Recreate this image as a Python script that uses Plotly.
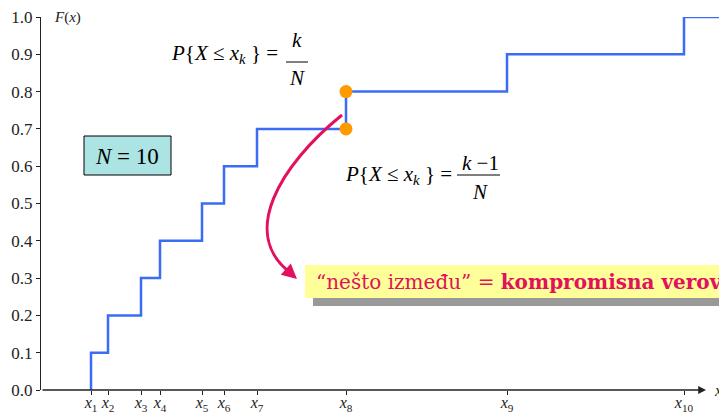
import plotly.graph_objects as go

# ---- data ----
sample_pos = [50, 67, 100, 119, 161, 183, 216, 305, 466, 643]   # x1..x10 (axis units)
F_values = [0.1, 0.2, 0.3, 0.4, 0.5, 0.6, 0.7, 0.8, 0.9, 1.0]
x_tick_labels = ["<i>x</i><sub>%d</sub>" % i for i in range(1, 11)]
y_ticks = [round(0.1 * i, 1) for i in range(11)]
highlight_F = [0.7, 0.8]          # values at x8 (k-1)/N and k/N
highlight_idx = 7                 # x8

X_MAX = 678
W, H = 719, 414
L, T, B = 41, 17, 24

def X(px):
    return px - L

def Y(py):
    return (H - B - py) / (H - B - T)

serif = "Liberation Serif"
wide_serif = "DejaVu Serif"
blue = "#3B6CF6"
pink = "#E2105E"

# step function
sx = [sample_pos[0]] + sample_pos + [X_MAX]
sy = [0.0] + F_values + [F_values[-1]]

fig = go.Figure()
fig.add_trace(go.Scatter(x=sx, y=sy, mode="lines", line=dict(color=blue, width=2.5, shape="hv"),
                         hoverinfo="skip", showlegend=False, cliponaxis=False))
fig.add_trace(go.Scatter(x=[sample_pos[highlight_idx]] * 2, y=highlight_F, mode="markers",
                         marker=dict(color="#FF9A00", size=13), showlegend=False, cliponaxis=False))

shapes = [
    # N=10 box
    dict(type="rect", xref="x", yref="y", x0=X(84), x1=X(171), y0=Y(175), y1=Y(136),
         fillcolor="#ACE3E3", line=dict(color="black", width=1), layer="above"),
    # shadow + yellow box
    dict(type="rect", xref="x", yref="y", x0=X(313), x1=X(740), y0=Y(306), y1=Y(297),
         fillcolor="#999999", line=dict(width=0), layer="above"),
    dict(type="rect", xref="x", yref="y", x0=X(305), x1=X(740), y0=Y(298), y1=Y(265),
         fillcolor="#FFFF99", line=dict(width=0), layer="above"),
    # fraction lines
    dict(type="line", xref="x", yref="y", x0=X(286), x1=X(308), y0=Y(62), y1=Y(62),
         line=dict(color="black", width=1)),
    dict(type="line", xref="x", yref="y", x0=X(457), x1=X(500), y0=Y(175), y1=Y(175),
         line=dict(color="black", width=1)),
    # curved pink arrow
    dict(type="path", xref="x", yref="y",
         path="M %f,%f C %f,%f %f,%f %f,%f" % (X(342), Y(115), X(280), Y(165), X(238), Y(235), X(292), Y(274)),
         line=dict(color=pink, width=3)),
]

ann = [
    dict(x=X(52), y=Y(17), xref="x", yref="y", text="<i>F</i>(<i>x</i>)", showarrow=False,
         xanchor="left", yanchor="middle", font=dict(family=serif, size=15, color="#222")),
    dict(x=X(127), y=Y(156), xref="x", yref="y", text="<i>N</i> = 10", showarrow=False,
         font=dict(family=serif, size=23, color="black")),
    dict(x=X(280), y=Y(54), xref="x", yref="y", text="<i>P</i>{<i>X</i> ≤ <i>x</i><sub><i>k</i></sub> } =",
         showarrow=False, xanchor="right", yanchor="middle", font=dict(family=serif, size=21, color="black")),
    dict(x=X(297), y=Y(40), xref="x", yref="y", text="<i>k</i>", showarrow=False,
         font=dict(family=serif, size=21, color="black")),
    dict(x=X(297), y=Y(78), xref="x", yref="y", text="<i>N</i>", showarrow=False,
         font=dict(family=serif, size=21, color="black")),
    dict(x=X(454), y=Y(175), xref="x", yref="y", text="<i>P</i>{<i>X</i> ≤ <i>x</i><sub><i>k</i></sub> } =",
         showarrow=False, xanchor="right", yanchor="middle", font=dict(family=serif, size=21, color="black")),
    dict(x=X(480), y=Y(163), xref="x", yref="y", text="<i>k</i> −1", showarrow=False,
         font=dict(family=serif, size=21, color="black")),
    dict(x=X(480), y=Y(192), xref="x", yref="y", text="<i>N</i>", showarrow=False,
         font=dict(family=serif, size=21, color="black")),
    dict(x=X(314), y=Y(282), xref="x", yref="y",
         text="“nešto između” = <b>kompromisna verovatnoća</b>", showarrow=False,
         xanchor="left", yanchor="middle", font=dict(family=wide_serif, size=20, color=pink)),
    # arrowhead for pink arrow
    dict(x=X(297), y=Y(279), xref="x", yref="y", ax=-9, ay=-8, text="", showarrow=True,
         arrowhead=2, arrowsize=1, arrowwidth=3, arrowcolor=pink),
    # x-axis with arrow
    dict(x=X(706), y=0, ax=0, ay=0, xref="x", yref="y", axref="x", ayref="y", text="",
         showarrow=True, arrowhead=2, arrowsize=1.2, arrowwidth=1.3, arrowcolor="#222"),
    dict(x=X(712), y=Y(390), xref="x", yref="y", text="<i>x</i>", showarrow=False,
         xanchor="left", yanchor="middle", font=dict(family=serif, size=16, color="#222")),
]

fig.update_layout(
    width=W, height=H, margin=dict(l=L, r=0, t=T, b=B, autoexpand=False),
    paper_bgcolor="white", plot_bgcolor="white",
    font=dict(family=serif),
    shapes=shapes, annotations=ann, showlegend=False,
    xaxis=dict(range=[0, X_MAX], tickvals=sample_pos, ticktext=x_tick_labels, showgrid=False,
               zeroline=False, showline=False, ticks="outside", ticklen=4, tickcolor="#222",
               automargin=False, ticklabelstandoff=-6,
               tickfont=dict(family=serif, size=16, color="#222"), fixedrange=True),
    yaxis=dict(range=[0, 1.0], tickvals=y_ticks, ticktext=["%.1f" % v for v in y_ticks],
               showgrid=False, zeroline=False, showline=True, linecolor="#222", linewidth=1.3,
               ticks="outside", ticklen=4, tickcolor="#222", automargin=False,
               tickfont=dict(family=serif, size=17, color="#222"), fixedrange=True),
)

fig.write_html("out.html", config={"displayModeBar": False},
               post_script="document.body.style.margin='0px';")
